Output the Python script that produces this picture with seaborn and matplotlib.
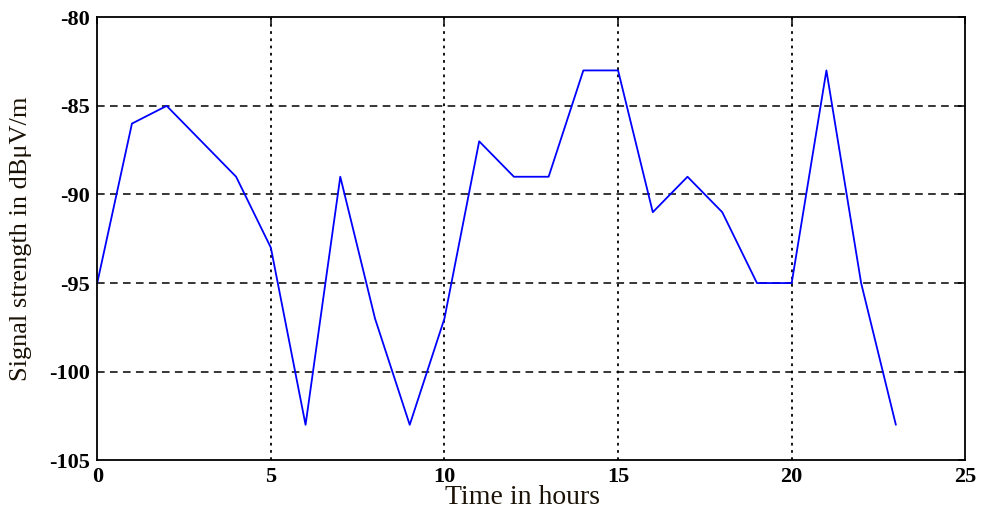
import matplotlib

matplotlib.use("Agg")

import matplotlib.pyplot as plt
import pandas as pd
import seaborn as sns


# hourly field strength readings
hours = list(range(24))
signal_dbuv = [
    -95, -86, -85, -87, -89, -93, -103, -89, -97, -103, -97, -87,
    -89, -89, -83, -83, -91, -89, -91, -95, -95, -83, -95, -103,
]
x_ticks = [0, 5, 10, 15, 20, 25]
y_ticks = [-105, -100, -95, -90, -85, -80]

df = pd.DataFrame({"hour": hours, "signal": signal_dbuv})

sns.set_style("white")
plt.rcParams["font.family"] = ["Liberation Serif", "DejaVu Serif"]
plt.rcParams["axes.unicode_minus"] = False

fig = plt.figure(figsize=(9.82, 5.08), dpi=100)
ax = fig.add_axes([0.099, 0.094, 0.884, 0.872])

sns.lineplot(data=df, x="hour", y="signal", color="#0000ff", linewidth=1.3, ax=ax)

ax.set_xlim(0, 25)
ax.set_ylim(-105, -80)
ax.set_xticks(x_ticks)
ax.set_yticks(y_ticks)

# matlab style grid: dotted verticals, dashed horizontals
for xv in x_ticks[1:-1]:
    ax.axvline(xv, color="black", linestyle=(0, (1.5, 2.5)), linewidth=1.3, zorder=0)
for yv in y_ticks[1:-1]:
    ax.axhline(yv, color="black", linestyle=(0, (5, 3.5)), linewidth=1.1, zorder=0)

for side in ["left", "right", "top", "bottom"]:
    ax.spines[side].set_visible(True)
    ax.spines[side].set_color("black")
    ax.spines[side].set_linewidth(1.3)

ax.tick_params(direction="in", length=5, width=1.1, top=True, right=True,
               labelsize=16, pad=5, colors="black")
for lbl in ax.get_xticklabels() + ax.get_yticklabels():
    lbl.set_fontweight("bold")

ax.set_xlabel("Time in hours", fontsize=20, color="#1a1206")
ax.xaxis.set_label_coords(0.49, -0.055)
ax.set_ylabel("Signal strength in dBμV/m", fontsize=19, color="#1a1206")
ax.yaxis.set_label_coords(-0.075, 0.5)

fig.savefig("out.png", dpi=100)
plt.close(fig)
